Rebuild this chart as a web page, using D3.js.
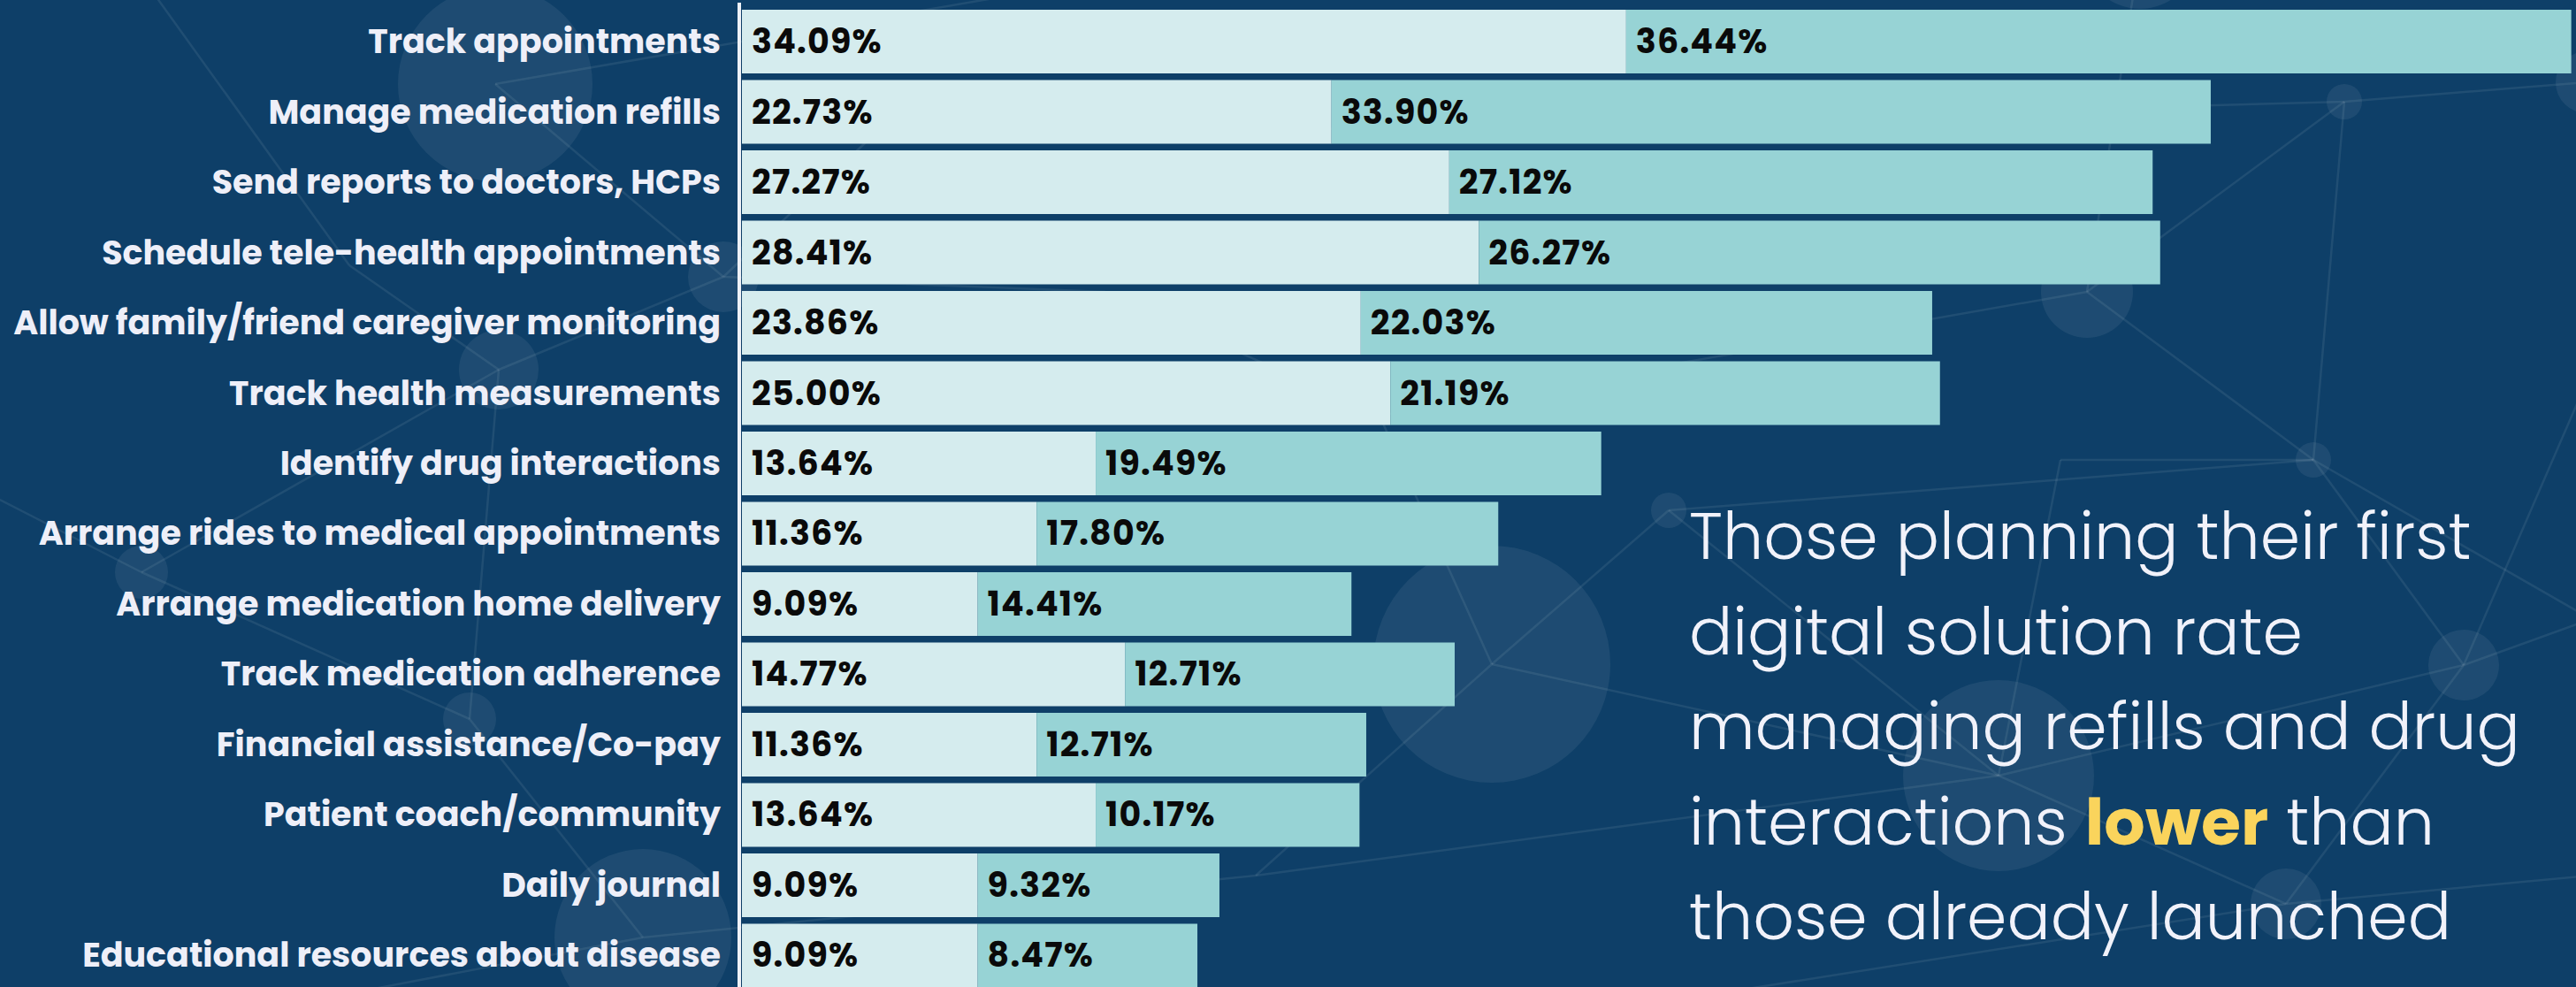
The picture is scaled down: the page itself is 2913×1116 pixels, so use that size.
<!DOCTYPE html>
<html>
<head>
<meta charset="utf-8">
<script src="https://cdn.jsdelivr.net/npm/d3@7"></script>
<style>
  html, body { margin: 0; padding: 0; background: #0e3f68; overflow: hidden; }
  svg { display: block; }
</style>
</head>
<body>
<div id="chart"></div>
<script>
// values
const features = [
  'Track appointments',
  'Manage medication refills',
  'Send reports to doctors, HCPs',
  'Schedule tele-health appointments',
  'Allow family/friend caregiver monitoring',
  'Track health measurements',
  'Identify drug interactions',
  'Arrange rides to medical appointments',
  'Arrange medication home delivery',
  'Track medication adherence',
  'Financial assistance/Co-pay',
  'Patient coach/community',
  'Daily journal',
  'Educational resources about disease'
]
const planning = [34.09, 22.73, 27.27, 28.41, 23.86, 25.00, 13.64, 11.36, 9.09, 14.77, 11.36, 13.64, 9.09, 9.09]
const launched = [36.44, 33.90, 27.12, 26.27, 22.03, 21.19, 19.49, 17.80, 14.41, 12.71, 12.71, 10.17, 9.32, 8.47]

const noteLines = [
  [{t: 'Those planning their first'}],
  [{t: 'digital solution rate'}],
  [{t: 'managing refills and drug'}],
  [{t: 'interactions '}, {t: 'lower', hi: true}, {t: ' than'}],
  [{t: 'those already launched'}]
]

// background network decoration
const bgNodes = [
  [560, 95, 110], [564, 418, 45], [160, 647, 30], [531, 813, 30], [727, 1060, 100],
  [1687, 751, 134], [2260, 877, 108], [1887, 577, 20], [2616, 520, 20], [2786, 752, 40],
  [2585, 1022, 40], [2651, 115, 20], [2360, 330, 52], [2420, -55, 65], [2925, 93, 35],
  [818, 313, 40], [172, -10, 0], [395, 300, 0], [-10, 560, 0], [1170, -10, 0],
  [1420, 990, 0], [2930, 700, 0], [2930, 990, 0], [1900, 1130, 0], [360, 1130, 0],
  [2330, 520, 0], [1250, 330, 0], [1560, 470, 0], [2930, 420, 0], [980, 160, 0]
]
const bgEdges = [
  [16, 17], [17, 1], [0, 15], [1, 15], [1, 2], [2, 18], [2, 3], [3, 4], [4, 24], [1, 3],
  [19, 0], [15, 26], [26, 27], [27, 5], [5, 20], [20, 4], [5, 7], [7, 8], [8, 11],
  [8, 12], [8, 25], [8, 9], [8, 21], [9, 21], [9, 6], [6, 10], [10, 23], [10, 22],
  [6, 5], [11, 14], [11, 12], [12, 13], [12, 27], [7, 6], [9, 28], [11, 29], [29, 15],
  [20, 6], [10, 9], [25, 6]
]

const width = 2913
const height = 1116

const x = d3.scaleLinear()
  .domain([0, 100])
  .range([839, 839 + 2933])

const y = d3.scaleBand()
  .domain(features)
  .range([7.25, 7.25 + features.length * 79.5])
  .paddingInner(0.0943)
  .paddingOuter(0.0472)

const rows = features.map((f, i) => ({name: f, a: planning[i], b: launched[i]}))

const svg = d3.select('#chart')
  .append('svg')
  .attr('width', width)
  .attr('height', height)

svg.append('rect')
  .attr('width', width)
  .attr('height', height)
  .attr('fill', '#0e3f68')

const bg = svg.append('g')

bg.selectAll('line')
  .data(bgEdges)
  .enter()
  .append('line')
  .attr('x1', d => bgNodes[d[0]][0])
  .attr('y1', d => bgNodes[d[0]][1])
  .attr('x2', d => bgNodes[d[1]][0])
  .attr('y2', d => bgNodes[d[1]][1])
  .attr('stroke', '#ffffff')
  .attr('stroke-opacity', 0.08)
  .attr('stroke-width', 2.5)

bg.selectAll('circle')
  .data(bgNodes.filter(d => d[2] > 0))
  .enter()
  .append('circle')
  .attr('cx', d => d[0])
  .attr('cy', d => d[1])
  .attr('r', d => d[2])
  .attr('fill', '#ffffff')
  .attr('fill-opacity', 0.065)

const bars = svg.append('g')

bars.selectAll('.planning')
  .data(rows)
  .enter()
  .append('rect')
  .attr('class', 'planning')
  .attr('x', x(0))
  .attr('y', d => y(d.name))
  .attr('width', d => x(d.a) - x(0))
  .attr('height', y.bandwidth())
  .attr('fill', '#d5ecee')

bars.selectAll('.launched')
  .data(rows)
  .enter()
  .append('rect')
  .attr('class', 'launched')
  .attr('x', d => x(d.a))
  .attr('y', d => y(d.name))
  .attr('width', d => x(d.a + d.b) - x(d.a))
  .attr('height', y.bandwidth())
  .attr('fill', '#97d3d5')

const fmt = d => d.toFixed(2) + '%'

bars.selectAll('.lab-a')
  .data(rows)
  .enter()
  .append('text')
  .attr('x', x(0) + 11)
  .attr('y', d => y(d.name) + y.bandwidth() / 2 + 13)
  .text(d => fmt(d.a))

bars.selectAll('.lab-b')
  .data(rows)
  .enter()
  .append('text')
  .attr('x', d => x(d.a) + 11)
  .attr('y', d => y(d.name) + y.bandwidth() / 2 + 13)
  .text(d => fmt(d.b))

bars.selectAll('text')
  .attr('font-family', 'Poppins, Inter, sans-serif')
  .attr('font-weight', 700)
  .attr('font-size', 38)
  .attr('letter-spacing', 1.2)
  .attr('fill', '#0a0a0a')

const axis = svg.append('g')
  .attr('transform', 'translate(836,0)')
  .call(d3.axisLeft(y).tickSize(0).tickPadding(21).tickSizeOuter(0))

axis.select('.domain')
  .attr('stroke', '#eef1f7')
  .attr('stroke-width', 4)
  .attr('d', 'M0,3V' + height)

axis.selectAll('.tick text')
  .attr('font-family', 'Poppins, Inter, sans-serif')
  .attr('font-weight', 700)
  .attr('font-size', 38)
  .attr('letter-spacing', 0)
  .attr('fill', '#eeeff8')
  .attr('dy', null)
  .attr('y', 13)

// takeaway text
const note = svg.append('text')
  .attr('font-family', 'Poppins, Inter, sans-serif')
  .attr('font-weight', 300)
  .attr('font-size', 73)
  .attr('fill', '#f1f2fa')

note.selectAll('tspan.line')
  .data(noteLines)
  .enter()
  .append('tspan')
  .attr('class', 'line')
  .attr('x', 1910)
  .attr('y', (d, i) => 632 + i * 107.5)
  .selectAll('tspan')
  .data(d => d)
  .enter()
  .append('tspan')
  .attr('font-weight', d => d.hi ? 700 : null)
  .attr('fill', d => d.hi ? '#fad45c' : null)
  .text(d => d.t)
</script>
</body>
</html>
